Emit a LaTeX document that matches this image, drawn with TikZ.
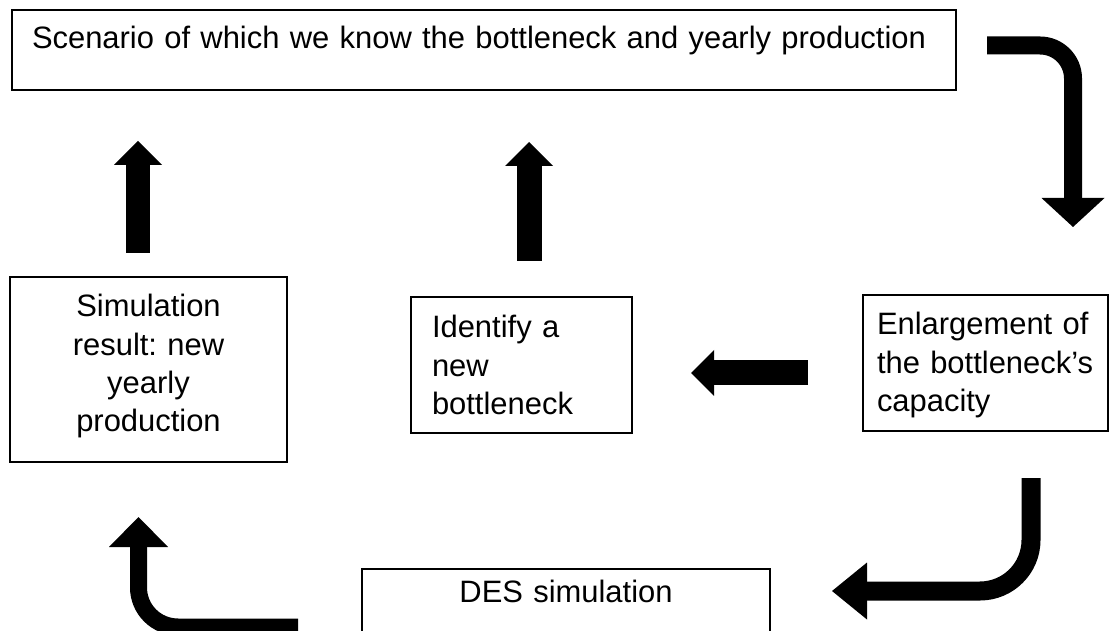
\documentclass[tikz,border=0pt]{standalone}
\usepackage{fontspec}
\setmainfont{Liberation Sans}
\usetikzlibrary{arrows.meta}

\begin{document}
\begin{tikzpicture}[
		kasten/.style={draw, line width=1pt, inner ysep=0pt, outer sep=0pt, anchor=base west, font=\fontsize{22}{27.2}\selectfont\frenchspacing},
		pfeil/.style={draw=black, line width=#1}
	]
		\useasboundingbox (0,0) rectangle (27.975,-15.775);
		\clip (0,0) rectangle (27.975,-15.775);
		
		\node[kasten, inner xsep=0.5cm, text width=22.6cm, align=left, text height=0.975cm, text depth=1.025cm] at (0.3,-1.225) (szen) {Scenario of which we know the bottleneck and yearly production};
		\node[kasten, inner xsep=0.25cm, text width=6.425cm, align=center, text height=1.0cm, text depth=3.625cm] at (0.25,-7.925) (simerg) {Simulation\\ result: new\\ yearly\\ production};
		\node[kasten, inner xsep=0.525cm, text width=4.475cm, align=left, text height=1.025cm, text depth=2.375cm] at (10.275,-8.45) (engpass) {Identify a\\ new\\ bottleneck};
		\node[kasten, inner xsep=0.35cm, text width=5.425cm, align=left, text height=1.0cm, text depth=2.4cm] at (21.575,-8.375) (erweit) {Enlargement of\\ the bottleneck’s\\ capacity};
		\node[kasten, inner xsep=0.25cm, text width=9.7cm, align=center, text height=0.825cm, text depth=1.45cm] at (9.05,-15.05) (des) {DES simulation};
		
		\coordinate (p1a) at (24.675,-1.1375);
		\coordinate (p1k) at (26.825,-1.1375);
		\coordinate (p1b) at (26.825,-5.675);
		
		\coordinate (p2a) at (20.2,-9.325);
		\coordinate (p2b) at (17.275,-9.325);
		
		\coordinate (p3a) at (13.225,-6.525);
		\coordinate (p3b) at (13.225,-3.55);
		
		\coordinate (p4a) at (3.45,-6.325);
		\coordinate (p4b) at (3.45,-3.525);
		
		\coordinate (p5a) at (25.775,-11.95);
		\coordinate (p5k) at (25.775,-14.775);
		\coordinate (p5b) at (20.8,-14.775);
		
		\coordinate (p6a) at (7.45,-15.675);
		\coordinate (p6k) at (3.4625,-15.675);
		\coordinate (p6b) at (3.4625,-12.925);
		
		\draw[pfeil=0.45cm, rounded corners=0.825cm, -{Triangle[length=0.725cm,width=1.575cm,line width=0pt]}] (p1a) -- (p1k) -- (p1b);
		\draw[pfeil=0.625cm, -{Triangle[length=0.575cm,width=1.15cm,line width=0pt]}] (p2a) -- (p2b);
		\draw[pfeil=0.625cm, -{Triangle[length=0.6cm,width=1.2cm,line width=0pt]}] (p3a) -- (p3b);
		\draw[pfeil=0.6cm, -{Triangle[length=0.6cm,width=1.2cm,line width=0pt]}] (p4a) -- (p4b);
		\draw[pfeil=0.475cm, rounded corners=1.275cm, -{Triangle[length=0.875cm,width=1.425cm,line width=0pt]}] (p5a) -- (p5k) -- (p5b);
		\draw[pfeil=0.425cm, rounded corners=0.9875cm, -{Triangle[length=0.75cm,width=1.475cm,line width=0pt]}] (p6a) -- (p6k) -- (p6b);
\end{tikzpicture}
\end{document}
